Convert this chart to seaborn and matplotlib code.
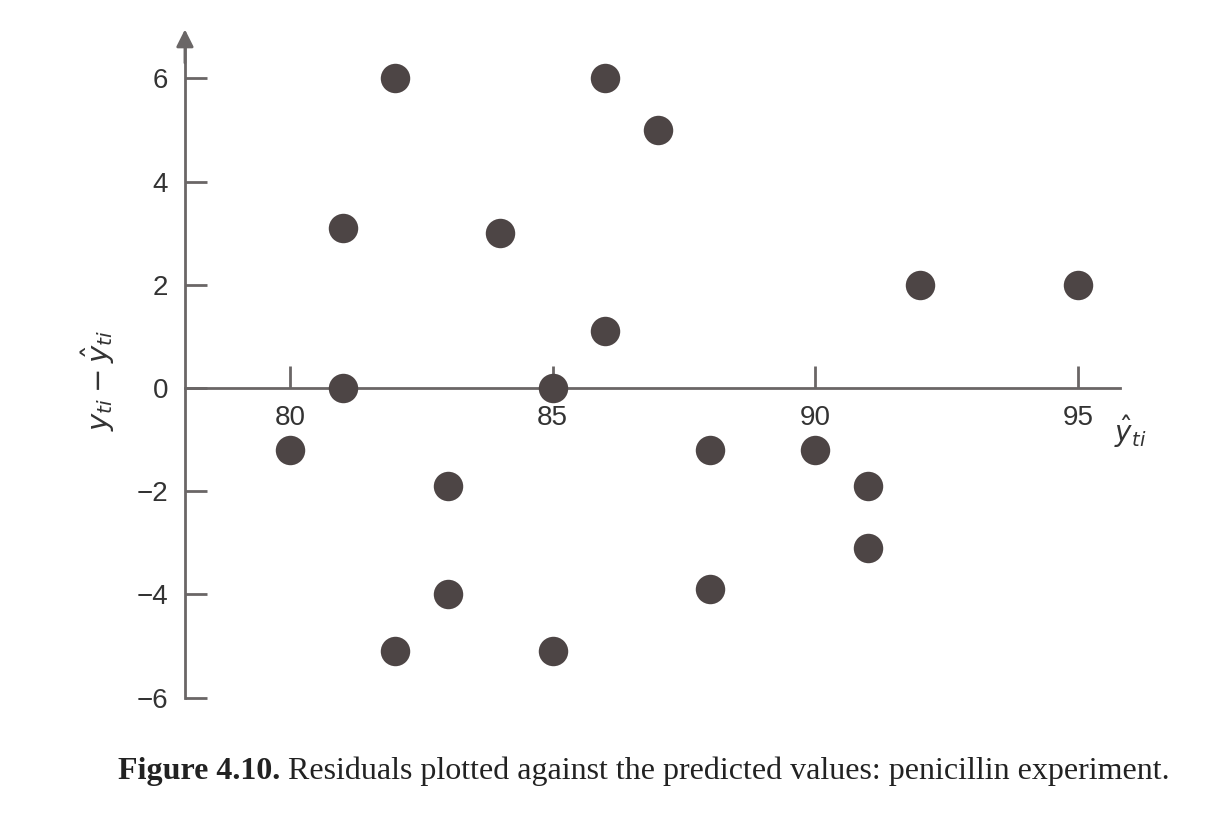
import matplotlib
matplotlib.use("Agg")
import matplotlib.pyplot as plt
import seaborn as sns
import pandas as pd

# Predicted values and residuals
predicted = [80, 81, 81, 82, 82, 83, 83, 84, 85, 85, 86, 86, 87, 88, 88, 90, 91, 91, 92, 95]
residuals = [-1.2, 3.1, 0.0, 6.0, -5.1, -1.9, -4.0, 3.0, 0.0, -5.1, 6.0, 1.1, 5.0, -1.2, -3.9, -1.2, -1.9, -3.1, 2.0, 2.0]

x_ticks = [80, 85, 90, 95]
y_ticks = [-6, -4, -2, 0, 2, 4, 6]
caption_bold = "Figure 4.10."
caption_rest = " Residuals plotted against the predicted values: penicillin experiment."

df = pd.DataFrame({"predicted": predicted, "residual": residuals})

sns.set_theme(style="white")
plt.rcParams["font.family"] = ["Liberation Sans", "DejaVu Sans"]
plt.rcParams["axes.unicode_minus"] = True

axis_color = "#6a6666"
dot_color = "#4d4545"

fig = plt.figure(figsize=(12.17, 8.21), dpi=100)
ax = fig.add_axes([0.1088, 0.0875, 0.8633, 0.8924])

sns.scatterplot(data=df, x="predicted", y="residual", ax=ax, s=450,
                color=dot_color, edgecolor=dot_color, linewidth=0, zorder=3)

ax.set_xlim(77, 97)
ax.set_ylim(-7, 7.2)

# axes drawn as crossing lines: y axis at x=78, x axis at y=0
for side in ["top", "right"]:
    ax.spines[side].set_visible(False)
ax.spines["left"].set_position(("data", 78))
ax.spines["bottom"].set_position(("data", 0))
ax.spines["left"].set_bounds(-6, 6.6)
ax.spines["bottom"].set_bounds(78, 95.8)
for side in ["left", "bottom"]:
    ax.spines[side].set_color(axis_color)
    ax.spines[side].set_linewidth(2.0)

ax.annotate("", xy=(78, 6.95), xytext=(78, 6.3),
            arrowprops=dict(arrowstyle="-|>", color=axis_color, lw=2.0,
                            mutation_scale=26, shrinkA=0, shrinkB=0))

ax.set_xticks(x_ticks)
ax.set_yticks(y_ticks)
ax.tick_params(axis="both", direction="in", length=16, width=2.0,
               color=axis_color, labelsize=20, labelcolor="#333333",
               left=True, bottom=True)
ax.tick_params(axis="x", pad=12)
ax.tick_params(axis="y", pad=12)
ax.set_xlabel("")
ax.set_ylabel("")

ax.text(76.35, 0.15, r"$y_{ti}-\hat{y}_{ti}$", rotation=90, fontsize=21,
        ha="center", va="center", color="#333333")
ax.text(96.0, -0.85, r"$\hat{y}_{ti}$", fontsize=20, ha="center", va="center",
        color="#333333")

serif = ["Liberation Serif", "DejaVu Serif"]
t1 = fig.text(0.097, 0.06, caption_bold, fontsize=23, fontweight="bold",
              family=serif, color="#222222", va="center")
fig.canvas.draw()
bb = t1.get_window_extent()
fig.text(bb.x1 / fig.bbox.width, 0.06, caption_rest, fontsize=23,
         family=serif, color="#222222", va="center")

fig.savefig("out.png", dpi=100)
